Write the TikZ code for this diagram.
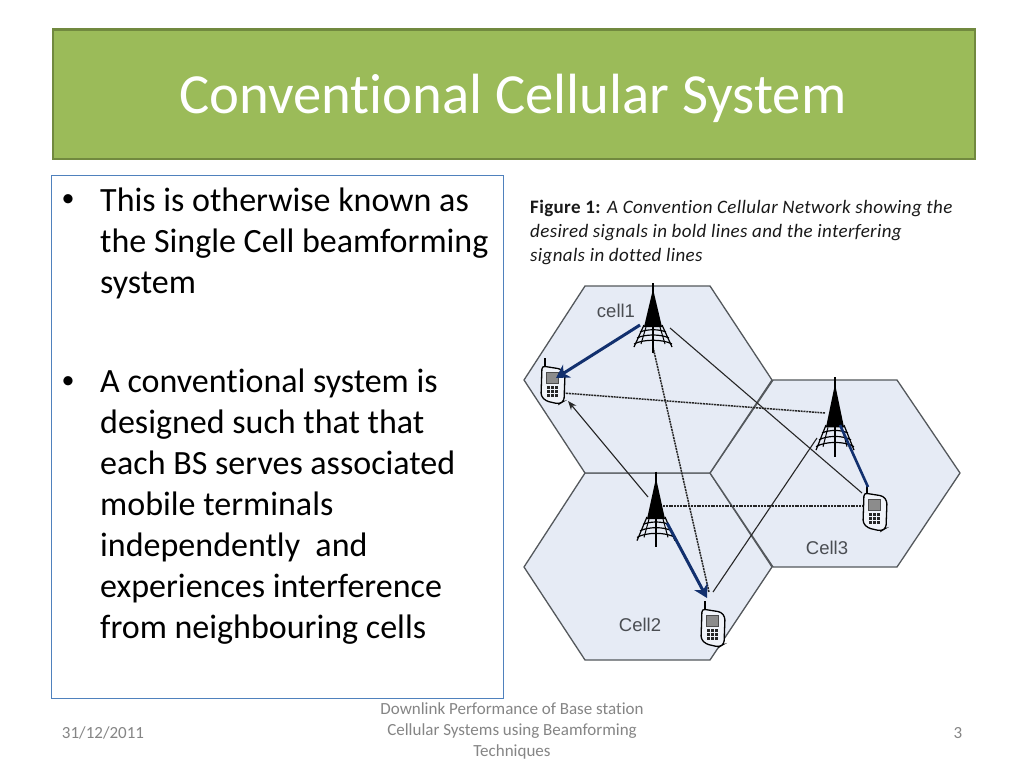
\documentclass[tikz,border=0pt]{standalone}
\usepackage{fontspec}
\setmainfont{Carlito}[Ligatures=NoCommon]
\newfontfamily\capf{Carlito}[Ligatures=NoCommon,LetterSpace=1.9]
\newfontfamily\cellf{Liberation Sans}
\usetikzlibrary{arrows.meta}
\definecolor{titlegreen}{HTML}{9BBB59}
\definecolor{titleedge}{HTML}{71893F}
\definecolor{bodyedge}{HTML}{4F81BD}
\definecolor{hexfill}{HTML}{E6EBF5}
\definecolor{hexedge}{HTML}{54585C}
\definecolor{sigblue}{HTML}{12306E}
\definecolor{footgrey}{HTML}{858585}
\definecolor{celltext}{HTML}{4A4D52}
\tikzset{
  hexcell/.style={draw=hexedge,fill=hexfill,line width=1.3pt,line join=round},
  bodytext/.style={anchor=north west,align=left,inner sep=0pt,font=\fontsize{34}{40.9}\selectfont,text=black},
  bullet/.style={anchor=base west,inner sep=0pt,font=\fontsize{26}{30}\selectfont,text=black},
  captiontext/.style={anchor=north west,align=left,inner sep=0pt,font=\capf\fontsize{19}{24}\selectfont,text=black!90},
  celllabel/.style={inner sep=0pt,font=\cellf\fontsize{18.5}{20}\selectfont,text=celltext},
  footer/.style={inner sep=0pt,font=\fontsize{17}{21}\selectfont,text=footgrey},
  desired/.style={draw=sigblue,line width=3pt,-{Stealth[length=13pt,width=15pt]}},
  desirednotip/.style={draw=sigblue,line width=2.6pt},
  interfthin/.style={draw=black!85,line width=1.1pt},
  interfdot/.style={draw=black!85,line width=1.5pt,dash pattern=on 2pt off 0.8pt},
  pics/towerpic/.style={code={
    \fill[black] (0,0) -- (-9,38) -- (9,38) -- cycle;
    \draw[black,line width=1.3pt] (0,-6) -- (0,64);
    \draw[black,line width=1.2pt] (-9,36) -- (-19,58) (9,36) -- (19,58);
    \draw[black,line width=1.2pt] (-19,55) .. controls (-10,50) and (10,50) .. (19,55);
    \draw[black,line width=1.2pt] (-16,49) .. controls (-8,45) and (8,45) .. (16,49);
    \draw[black,line width=1.2pt] (-13,43) .. controls (-6,40) and (6,40) .. (13,43);
    \draw[black,line width=1.0pt] (-7,38) -- (-12,55) (7,38) -- (12,55);
  }},
  pics/phonepic/.style={code={
    \draw[black,line width=1.3pt,rounded corners=3pt,fill=hexfill!60!white] (-11,-18) -- (8,-15) -- (12,-10) -- (11,17) -- (6,20) -- (-7,17) -- (-12,12) -- cycle;
    \draw[black!70,line width=0.8pt,fill=black!45] (-7,-12) rectangle (5,-1);
    \foreach \px in {-6,-2,2}{\foreach \py in {2,6,10}{\fill[black!85] (\px,\py) rectangle +(3,2.5);}}
    \draw[black,line width=1.4pt] (-8,-18) -- (-8,-26);
  }}
}
\begin{document}
\begin{tikzpicture}[x=1pt,y=-1pt]
\useasboundingbox (0,0) rectangle (1024,768);
\fill[white] (0,0) rectangle (1024,768);
% title
\node[draw=titleedge,fill=titlegreen,line width=2.2pt,minimum width=922pt,minimum height=129pt,anchor=north west,inner sep=0pt] (titlebox) at (52,28.5) {};
\node[inner sep=0pt,anchor=base,text=white,font=\fontsize{56.7}{60}\selectfont] (titletext) at (513,113) {Conventional Cellular System};
% body
\node[draw=bodyedge,fill=white,line width=1.4pt,minimum width=452pt,minimum height=523pt,anchor=north west,inner sep=0pt] (bodybox) at (51,174.5) {};
\node[bullet] (b1) at (61.5,206) {•};
\node[bodytext] (p1) at (100,188) {This is otherwise known as\\the Single Cell beamforming\\system};
\node[bullet] (b2) at (61.5,388) {•};
\node[bodytext] (p2) at (100,369) {A conventional system is\\designed such that that\\each BS serves associated\\mobile terminals\\independently\ \ and\\experiences interference\\from neighbouring cells};
% caption
\node[captiontext] (cap) at (530,200) {\textbf{Figure 1:} \textit{A Convention Cellular Network showing the}\\\textit{desired signals in bold lines and the interfering}\\\textit{signals in dotted lines}};
% hexagons
\draw[hexcell] (585,473) -- (710,473) -- (772,567) -- (710,660) -- (585,660) -- (524,567) -- cycle;
\draw[hexcell] (773,380) -- (897,380) -- (960,473) -- (897,567) -- (773,567) -- (710,473) -- cycle;
\draw[hexcell] (585,286) -- (710,286) -- (772,380) -- (710,473) -- (585,473) -- (524,380) -- cycle;
% labels
\node[celllabel] (c1) at (616,311) {cell1};
\node[celllabel] (c2) at (640,625) {Cell2};
\node[celllabel] (c3) at (827,548) {Cell3};
% terminals and towers
\coordinate (t1a) at (640,325);
\coordinate (t1b) at (653,347);
\coordinate (t1c) at (670,328);
\coordinate (t2a) at (667,523);
\coordinate (t2b) at (648,497);
\coordinate (t2c) at (663,506);
\coordinate (t3a) at (825,413);
\coordinate (t3b) at (817,438);
\coordinate (t3c) at (840,425);
\coordinate (m1a) at (556,378);
\coordinate (m1b) at (568,401);
\coordinate (m1c) at (563,393);
\coordinate (m2a) at (707,598);
\coordinate (m2b) at (709,592);
\coordinate (m2c) at (713,592);
\coordinate (m3a) at (868,487);
\coordinate (m3b) at (862,493);
\coordinate (m3c) at (862,506);
% interference
\draw[interfdot] (t1b) -- (m2b);
\draw[interfthin] (t1c) -- (m3b);
\draw[interfthin,-{Stealth[length=9pt,width=7pt]}] (t2b) -- (m1b);
\draw[interfdot] (t3a) -- (m1c);
\draw[interfdot] (t2c) -- (m3c);
\draw[interfthin] (t3b) -- (m2c);
% towers and phones
\pic at (653,289) {towerpic};
\pic[yscale=1.08] at (656,478) {towerpic};
\pic[yscale=1.14] at (835,384) {towerpic};
\pic at (553,384) {phonepic};
\pic at (713,627) {phonepic};
\pic at (875,511) {phonepic};
% desired
\draw[desired] (t1a) -- (m1a);
\draw[desired] (t2a) -- (m2a);
\draw[desirednotip] (t3c) -- (m3a);
% footer
\node[footer] (date) at (103,733) {31/12/2011};
\node[footer,align=center] (foot) at (512,731) {Downlink Performance of Base station\\Cellular Systems using Beamforming\\Techniques};
\node[footer] (page) at (958,733) {3};
\end{tikzpicture}
\end{document}
